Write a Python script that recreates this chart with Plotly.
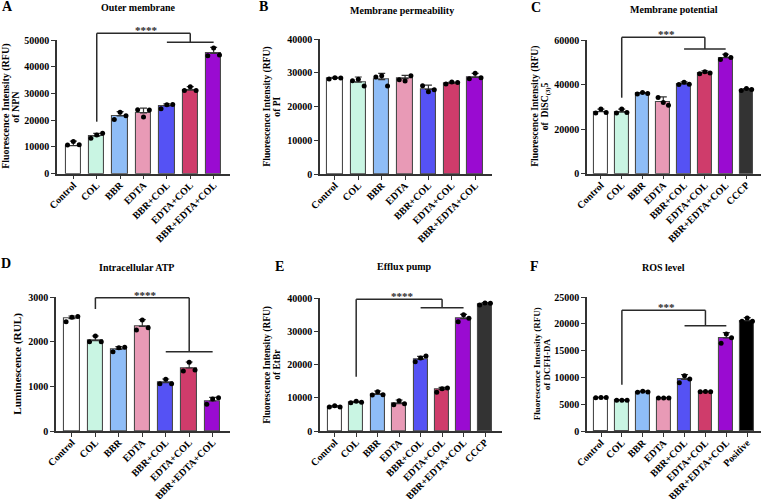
import plotly.graph_objects as go

W, H = 762, 499

# ---------------- data ----------------
cats7 = ["Control", "COL", "BBR", "EDTA", "BBR+COL", "EDTA+COL", "BBR+EDTA+COL"]
cats_c = cats7 + ["CCCP"]
cats_e = cats7 + ["CCCP"]
cats_f = cats7 + ["Positive"]

# A: Outer membrane (NPN)
a_mean = [10500, 14000, 21600, 22750, 25400, 31250, 45000]
a_err = [1700, 1100, 1650, 1750, 700, 1350, 2250]
a_pts = [[10700, 12000, 10800], [13300, 14500, 15100], [20300, 23000, 21700],
         [23900, 21200, 23800], [24300, 25800, 25900], [31100, 32500, 31100],
         [44100, 47000, 44400]]

# B: Membrane permeability (PI)
b_mean = [28400, 27300, 28000, 28300, 25100, 26900, 28700]
b_err = [300, 1500, 1900, 1000, 1300, 400, 1200]
b_pts = [[28200, 28600, 28500], [27700, 28100, 26100], [28800, 29200, 26100],
         [28000, 27600, 29200], [26200, 24400, 25000], [26700, 27300, 27200],
         [28300, 29900, 28600]]

# C: Membrane potential (DiSC3(5))
c_mean = [27800, 27600, 36100, 32400, 40300, 45400, 52100, 37600]
c_err = [1200, 1400, 300, 2100, 900, 700, 1500, 600]
c_pts = [[27200, 29000, 27500], [27200, 29000, 27500], [35800, 36400, 36000],
         [34200, 31900, 30700], [40000, 41000, 40100], [44900, 45800, 45200],
         [51300, 53400, 52100], [37300, 38200, 37800]]

# D: Intracellular ATP
d_mean = [2520, 2027, 1832, 2348, 1085, 1414, 673]
d_err = [60, 105, 60, 150, 82, 134, 82]
d_pts = [[2450, 2550, 2570], [2004, 2132, 2004], [1780, 1870, 1877],
         [2266, 2490, 2318], [1062, 1160, 1062], [1346, 1541, 1369],
         [598, 718, 748]]

# E: Efflux pump (EtBr)
e_mean = [7240, 8640, 11060, 8240, 21600, 12460, 33870, 38190]
e_err = [400, 300, 1000, 1100, 900, 710, 1310, 500]
e_pts = [[7240, 7640, 7240], [8540, 8940, 8640], [10850, 11860, 10950],
         [7940, 9150, 8240], [20900, 22000, 22600], [11660, 12760, 12960],
         [32960, 35070, 33970], [37990, 38590, 38490]]

# F: ROS level (DCFH-DA)
f_mean = [6270, 5770, 7380, 6200, 9680, 7380, 17370, 20600]
f_err = [60, 60, 120, 60, 870, 60, 990, 550]
f_pts = [[6250, 6280, 6270], [5760, 5780, 5770], [7260, 7440, 7320],
         [6200, 6210, 6190], [9060, 10360, 9740], [7380, 7390, 7370],
         [16380, 18110, 17430], [20500, 21100, 20500]]

# ---------------- styling ----------------
bar_colors = ["#ffffff", "#c9f5e3", "#8fbdf7", "#e89ab6", "#5552f4", "#cf3c6b", "#9a0bd1"]
extra_colors = {"CCCP": "#333333", "Positive": "#000000"}
FONT = "Liberation Serif"
AX = "#333333"

panels = [
    dict(cats=cats7, mean=a_mean, err=a_err, pts=a_pts, yr=[0, 50000], dtick=10000,
         xr=[-0.7, 6.7], box=(57, 230, 40, 173.7), title="Outer membrane", tpos=(138, 7.5),
         letter="A", lpos=(7, 6.5),
         ytitle=[("Fluorescence Intensity (RFU)", 6, 10), ("of NPN", 16, 10)],
         br=dict(l=1, r=5, top=52500, lb=19450, drop=49140, s0=4, s1=6, stars="****")),
    dict(cats=cats7, mean=b_mean, err=b_err, pts=b_pts, yr=[0, 40000], dtick=10000,
         xr=[-0.64, 6.72], box=(320, 492, 39.3, 174), title="Membrane permeability", tpos=(401.5, 10),
         letter="B", lpos=(263.5, 6.5),
         ytitle=[("Fluorescence Intensity (RFU)", 267, 9.6), ("of PI", 277, 9.6)],
         br=None),
    dict(cats=cats_c, mean=c_mean, err=c_err, pts=c_pts, yr=[0, 60000], dtick=20000,
         xr=[-0.67, 7.7], box=(587, 761, 40, 173.7), title="Membrane potential", tpos=(674, 9.5),
         letter="C", lpos=(536, 7.5),
         ytitle=[("Fluorescence Intensity (RFU)", 535, 9.7), ("of  DiSC<sub>(3)</sub>5", 545.5, 9.7)],
         br=dict(l=1, r=5, top=61200, lb=34100, drop=55960, s0=4, s1=6, stars="***")),
    dict(cats=cats7, mean=d_mean, err=d_err, pts=d_pts, yr=[0, 3000], dtick=1000,
         xr=[-0.68, 6.74], box=(56, 230, 297.3, 431), title="Intracellular ATP", tpos=(136.7, 267.3),
         letter="D", lpos=(6, 263),
         ytitle=[("Luminescence (RUL)", 17.5, 11.2)],
         br=dict(l=1, r=5, top=2991, lb=2737, drop=1779, s0=4, s1=6, stars="****")),
    dict(cats=cats_e, mean=e_mean, err=e_err, pts=e_pts, yr=[0, 40000], dtick=10000,
         xr=[-0.685, 7.79], box=(320, 502, 298.3, 431), title="Efflux pump", tpos=(404, 266.7),
         letter="E", lpos=(279, 266.7),
         ytitle=[("Fluorescence Intensity (RFU)", 268, 9.4), ("of EtBr", 277, 9.4)],
         br=dict(l=1, r=5, top=39700, lb=16370, drop=37170, s0=4, s1=6, stars="****")),
    dict(cats=cats_f, mean=f_mean, err=f_err, pts=f_pts, yr=[0, 25000], dtick=5000,
         xr=[-0.67, 7.66], box=(587, 761, 297, 431.3), title="ROS level", tpos=(663.5, 267.3),
         letter="F", lpos=(534, 266),
         ytitle=[("Fluorescence Intensity (RFU)", 537, 9.0), ("of DCFH-DA", 547, 9.0)],
         br=dict(l=1, r=5, top=22520, lb=8675, drop=19660, s0=4, s1=6, stars="***")),
]

fig = go.Figure()
shapes = []
annotations = []
offsets = [-0.25, 0.0, 0.25]


def pxp(x):
    return x / W


def pyp(y):
    return 1 - y / H


for i, p in enumerate(panels, start=1):
    xa = "x" if i == 1 else f"x{i}"
    ya = "y" if i == 1 else f"y{i}"
    n = len(p["cats"])
    cols = [bar_colors[k] if k < 7 else extra_colors[p["cats"][k]] for k in range(n)]
    fig.add_trace(go.Bar(
        x=list(range(n)), y=p["mean"], width=0.66,
        marker=dict(color=cols, line=dict(color="#4a4a4a", width=1.1)),
        error_y=dict(type="data", symmetric=False, array=p["err"], arrayminus=[0] * n,
                     color=AX, thickness=1.2, width=3.5),
        xaxis=xa, yaxis=ya, showlegend=False, hoverinfo="skip"))
    xs, ys = [], []
    for k in range(n):
        for j, v in enumerate(p["pts"][k]):
            xs.append(k + offsets[j])
            ys.append(v)
    fig.add_trace(go.Scatter(x=xs, y=ys, mode="markers",
                             marker=dict(color="black", size=5),
                             xaxis=xa, yaxis=ya, showlegend=False, cliponaxis=False,
                             hoverinfo="skip"))

    x0, x1, y0, y1 = p["box"]
    dom_x = [x0 / W, x1 / W]
    dom_y = [1 - y1 / H, 1 - y0 / H]
    tickfont = dict(family=FONT, size=10, color="black", weight="bold")
    fig.layout[("xaxis" if i == 1 else f"xaxis{i}")] = dict(
        domain=dom_x, range=p["xr"], anchor=ya, tickmode="array",
        tickvals=list(range(n)), ticktext=p["cats"], tickangle=-45,
        showline=True, linecolor=AX, linewidth=1.5, ticks="outside", ticklen=4,
        tickwidth=1.3, tickcolor=AX, tickfont=tickfont, showgrid=False,
        ticklabelstandoff=-4,
        zeroline=False, automargin=False, fixedrange=True)
    fig.layout[("yaxis" if i == 1 else f"yaxis{i}")] = dict(
        domain=dom_y, range=p["yr"], anchor=xa, tick0=0, dtick=p["dtick"],
        tickformat="d", showline=True, linecolor=AX, linewidth=1.5,
        ticks="outside", ticklen=4, tickwidth=1.3, tickcolor=AX,
        tickfont=tickfont, showgrid=False, zeroline=False, automargin=False,
        fixedrange=True)

    def dx(v, p=p, x0=x0, x1=x1):
        r0, r1 = p["xr"]
        return pxp(x0 + (v - r0) / (r1 - r0) * (x1 - x0))

    def dy(v, p=p, y0=y0, y1=y1):
        r0, r1 = p["yr"]
        return pyp(y1 - (v - r0) / (r1 - r0) * (y1 - y0))

    # title and letter
    annotations.append(dict(text=p["title"], x=pxp(p["tpos"][0]), y=pyp(p["tpos"][1]),
                            xref="paper", yref="paper", showarrow=False,
                            xanchor="center", yanchor="middle",
                            font=dict(family=FONT, size=10, color="black", weight="bold")))
    annotations.append(dict(text=p["letter"], x=pxp(p["lpos"][0]), y=pyp(p["lpos"][1]),
                            xref="paper", yref="paper", showarrow=False,
                            xanchor="center", yanchor="middle",
                            font=dict(family=FONT, size=14, color="black", weight="bold")))
    ymid = (y0 + y1) / 2
    for txt, xpix, fs in p["ytitle"]:
        annotations.append(dict(text=txt, x=pxp(xpix), y=pyp(ymid), xref="paper", yref="paper",
                                showarrow=False, textangle=-90, xanchor="center",
                                yanchor="middle",
                                font=dict(family=FONT, size=fs, color="black", weight="bold")))

    b = p["br"]
    if b:
        line = dict(color="#2a2a2a", width=1.5)
        segs = [
            (b["l"], b["lb"], b["l"], b["top"]),
            (b["l"], b["top"], b["r"], b["top"]),
            (b["r"], b["top"], b["r"], b["drop"]),
            (b["s0"], b["drop"], b["s1"], b["drop"]),
        ]
        for (ax0, ay0, ax1, ay1) in segs:
            shapes.append(dict(type="line", xref="paper", yref="paper",
                               x0=dx(ax0), y0=dy(ay0), x1=dx(ax1), y1=dy(ay1), line=line))
        annotations.append(dict(text=b["stars"], x=dx((b["l"] + b["r"]) / 2), y=dy(b["top"]),
                                xref="paper", yref="paper", showarrow=False, xshift=3, yshift=3,
                                xanchor="center", yanchor="middle",
                                font=dict(family=FONT, size=11, color="#2a2a2a", weight="bold")))

fig.update_layout(
    width=W, height=H, template="none",
    margin=dict(l=0, r=0, t=0, b=0),
    paper_bgcolor="white", plot_bgcolor="rgba(0,0,0,0)",
    shapes=shapes, annotations=annotations, showlegend=False,
    bargap=0,
)

fig.write_html("out.html", config={"displayModeBar": False},
               post_script="document.body.style.margin='0';document.body.style.overflow='hidden';")
